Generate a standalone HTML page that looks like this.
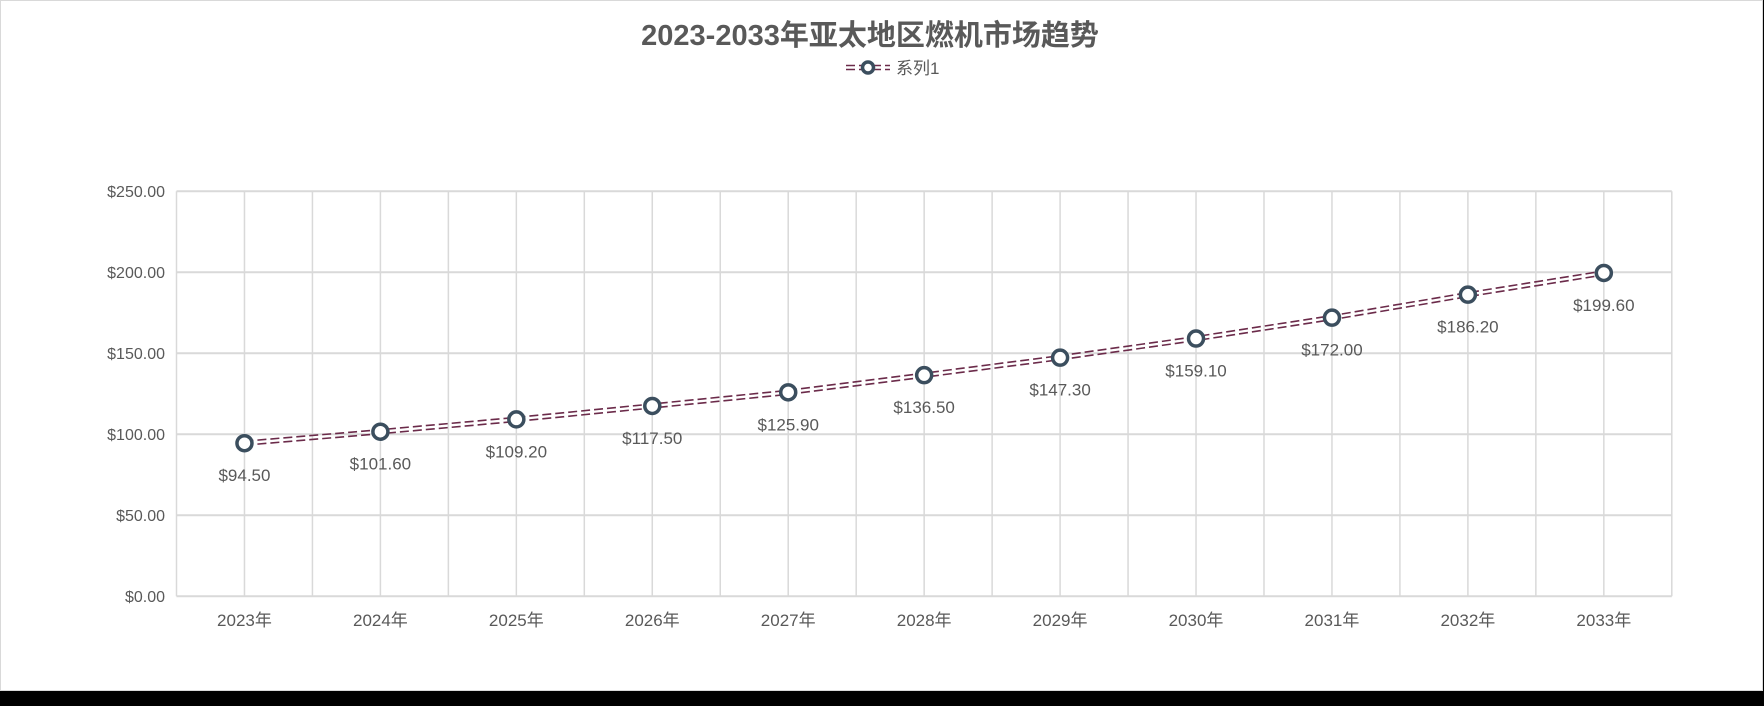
<!DOCTYPE html>
<html><head><meta charset="utf-8"><style>
body{margin:0;background:#000;}
svg{display:block;}
text{font-family:"Liberation Sans","Noto Sans CJK SC",sans-serif;fill:#595959;}
</style></head><body>
<svg width="1764" height="706" viewBox="0 0 1764 706" xmlns="http://www.w3.org/2000/svg">
<rect x="0" y="0" width="1764" height="706" fill="#000"/>
<rect x="0.5" y="0.5" width="1762" height="690" fill="#fff" stroke="#d9d9d9"/>
<text x="870" y="45" text-anchor="middle" font-size="29" font-weight="bold" style="fill:#595959">2023-2033年亚太地区燃机市场趋势</text>
<g>
<line x1="846" y1="65.5" x2="890" y2="65.5" stroke="#6b2b4a" stroke-width="1.5" stroke-dasharray="9 4"/>
<line x1="846" y1="69.5" x2="890" y2="69.5" stroke="#6b2b4a" stroke-width="1.5" stroke-dasharray="9 4"/>
<circle cx="868" cy="67.5" r="5.5" fill="#fff" stroke="#3b4e5e" stroke-width="3.5"/>
<text x="896" y="74" font-size="17">系列1</text>
</g>
<g stroke="#d9d9d9" stroke-width="2">
<line x1="176.5" y1="191.3" x2="1671.8" y2="191.3"/>
<line x1="176.5" y1="272.3" x2="1671.8" y2="272.3"/>
<line x1="176.5" y1="353.3" x2="1671.8" y2="353.3"/>
<line x1="176.5" y1="434.3" x2="1671.8" y2="434.3"/>
<line x1="176.5" y1="515.3" x2="1671.8" y2="515.3"/>
<line x1="176.5" y1="596.3" x2="1671.8" y2="596.3"/>
</g>
<g stroke="#d9d9d9" stroke-width="1.5" id="vg"></g>
<g font-size="16" text-anchor="end">
<text x="165" y="197">$250.00</text>
<text x="165" y="278">$200.00</text>
<text x="165" y="359">$150.00</text>
<text x="165" y="440">$100.00</text>
<text x="165" y="521">$50.00</text>
<text x="165" y="602">$0.00</text>
</g>
<g id="cats" font-size="17" text-anchor="middle"></g>
<g id="ser"></g>
<g id="lbl" font-size="17" text-anchor="middle"></g>
<script>
var ns="http://www.w3.org/2000/svg";
var vals=[94.5,101.6,109.2,117.5,125.9,136.5,147.3,159.1,172.0,186.2,199.6];
var L=176.5,R=1671.8,step=(R-L)/11;
var vg=document.getElementById('vg');
for(var i=0;i<=22;i++){var x=L+i*step/2;var l=document.createElementNS(ns,'line');l.setAttribute('x1',x);l.setAttribute('x2',x);l.setAttribute('y1',191.3);l.setAttribute('y2',596.3);vg.appendChild(l);}
var pts=vals.map(function(v,i){return [L+step*(i+0.5),596.3-v*1.62];});
var ser=document.getElementById('ser');
[-2,2].forEach(function(o){var p=document.createElementNS(ns,'path');p.setAttribute('d',pts.map(function(q,i){return (i?'L':'M')+q[0]+' '+(q[1]+o);}).join(' '));p.setAttribute('fill','none');p.setAttribute('stroke','#6b2b4a');p.setAttribute('stroke-width','1.6');p.setAttribute('stroke-dasharray','9 4');ser.appendChild(p);});
var cats=document.getElementById('cats'),lbl=document.getElementById('lbl');
pts.forEach(function(p,i){
var c=document.createElementNS(ns,'circle');c.setAttribute('cx',p[0]);c.setAttribute('cy',p[1]);c.setAttribute('r',7.5);c.setAttribute('fill','#fff');c.setAttribute('stroke','#3b4e5e');c.setAttribute('stroke-width','3.5');ser.appendChild(c);
var t=document.createElementNS(ns,'text');t.setAttribute('x',p[0]);t.setAttribute('y',p[1]+38);t.textContent='$'+vals[i].toFixed(2);lbl.appendChild(t);
var k=document.createElementNS(ns,'text');k.setAttribute('x',p[0]);k.setAttribute('y',626);k.textContent=(2023+i)+'年';cats.appendChild(k);
});
</script>
</svg>
</body></html>
